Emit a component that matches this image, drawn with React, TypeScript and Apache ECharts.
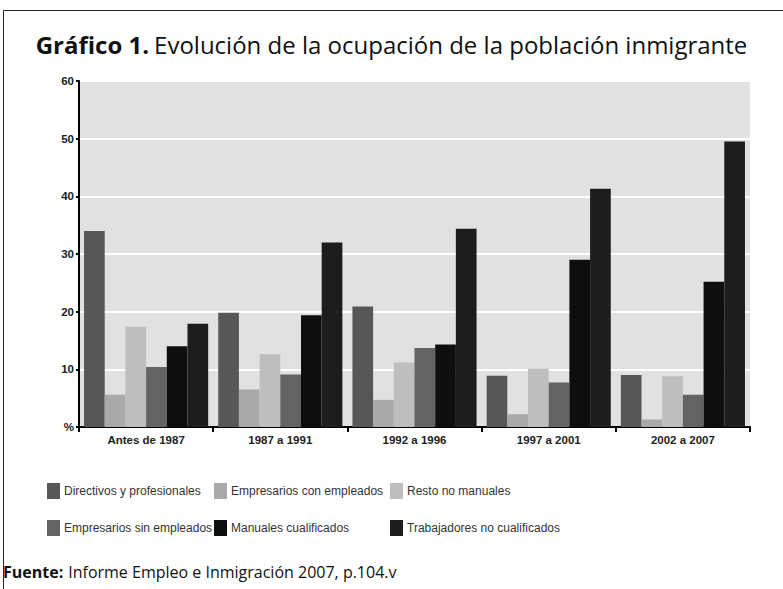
import React, { useEffect, useRef } from "react";
import * as echarts from "echarts";

const categories = ["Antes de 1987", "1987 a 1991", "1992 a 1996", "1997 a 2001", "2002 a 2007"];
const seriesNames = [
  "Directivos y profesionales",
  "Empresarios con empleados",
  "Resto no manuales",
  "Empresarios sin empleados",
  "Manuales cualificados",
  "Trabajadores no cualificados",
];
const directivos = [34.0, 19.8, 20.9, 8.9, 9.0];
const empresariosCon = [5.6, 6.5, 4.7, 2.2, 1.3];
const restoNoManuales = [17.4, 12.6, 11.2, 10.1, 8.8];
const empresariosSin = [10.4, 9.1, 13.7, 7.7, 5.6];
const manualesCualificados = [14.0, 19.4, 14.3, 29.0, 25.2];
const trabajadoresNoCualificados = [17.9, 32.0, 34.4, 41.3, 49.5];
const seriesValues = [
  directivos,
  empresariosCon,
  restoNoManuales,
  empresariosSin,
  manualesCualificados,
  trabajadoresNoCualificados,
];
const colors = ["#575757", "#a9a9a9", "#bebebe", "#636363", "#0e0e0e", "#1d1d1d"];

const legendPos = [
  { left: 47, top: 483 },
  { left: 214, top: 483 },
  { left: 390, top: 483 },
  { left: 47, top: 520 },
  { left: 214, top: 520 },
  { left: 390, top: 520 },
];

export default function App() {
  const ref = useRef<HTMLDivElement>(null);
  useEffect(() => {
    if (!ref.current) return;
    const chart = echarts.init(ref.current, null, { renderer: "svg" });
    const labelFont = "'Liberation Sans', Arial, sans-serif";
    chart.setOption({
      animation: false,
      backgroundColor: "#ffffff",
      title: [
        {
          text: "{b|Gráfico 1.} {n|Evolución de la ocupación de la población inmigrante}",
          left: "center",
          top: 27,
          textStyle: {
            rich: {
              b: { fontFamily: "'Open Sans', sans-serif", fontWeight: "bold", fontSize: 24, color: "#111" },
              n: { fontFamily: "'Open Sans', sans-serif", fontWeight: "normal", fontSize: 24, color: "#111" },
            },
          },
        },
        {
          text: "{b|Fuente:} {n|Informe Empleo e Inmigración 2007, p.104.v}",
          left: 3,
          top: 563,
          padding: 0,
          textStyle: {
            rich: {
              b: { fontFamily: "'Open Sans', sans-serif", fontWeight: "bold", fontSize: 16, color: "#111" },
              n: { fontFamily: "'Open Sans', sans-serif", fontWeight: "normal", fontSize: 16, color: "#111" },
            },
          },
        },
      ],
      graphic: [
        { type: "line", shape: { x1: 3.5, y1: 10.5, x2: 783, y2: 10.5 }, style: { stroke: "#222", lineWidth: 1 } },
        { type: "line", shape: { x1: 3.5, y1: 10.5, x2: 3.5, y2: 589 }, style: { stroke: "#222", lineWidth: 1 } },
      ],
      legend: seriesNames.map((name, i) => ({
        data: [name],
        left: legendPos[i].left,
        top: legendPos[i].top,
        padding: 0,
        icon: "rect",
        itemWidth: 13,
        itemHeight: 16,
        itemGap: 4,
        selectedMode: false,
        textStyle: { fontFamily: labelFont, fontSize: 12, color: "#333", padding: [0, 0, 0, -1] },
      })),
      grid: {
        left: 79,
        right: 33,
        top: 81,
        bottom: 162,
        show: true,
        backgroundColor: "#e1e1e1",
        borderWidth: 0,
        containLabel: false,
      },
      xAxis: {
        type: "category",
        data: categories,
        axisLine: { show: true, lineStyle: { color: "#000", width: 2 } },
        axisTick: { show: true, length: 5, lineStyle: { color: "#000", width: 2 } },
        axisLabel: { fontFamily: labelFont, fontSize: 11.5, fontWeight: "bold", color: "#222", margin: 7 },
      },
      yAxis: {
        type: "value",
        min: 0,
        max: 60,
        interval: 10,
        axisLine: { show: true, lineStyle: { color: "#000", width: 2 } },
        axisTick: { show: true, length: 3, lineStyle: { color: "#000", width: 2 } },
        axisLabel: {
          fontFamily: labelFont,
          fontSize: 11.5,
          fontWeight: "bold",
          color: "#222",
          margin: 5,
          formatter: (v: number) => (v === 0 ? "%" : String(v)),
        },
        splitLine: { show: true, lineStyle: { color: "#ffffff", width: 2 } },
      },
      series: seriesNames.map((name, i) => ({
        name,
        type: "bar",
        data: seriesValues[i],
        barGap: "0%",
        barCategoryGap: "7.5%",
        itemStyle: { color: colors[i] },
      })),
    });
    return () => chart.dispose();
  }, []);
  return <div ref={ref} style={{ width: 783, height: 589, position: "absolute", left: 0, top: 0 }} />;
}
